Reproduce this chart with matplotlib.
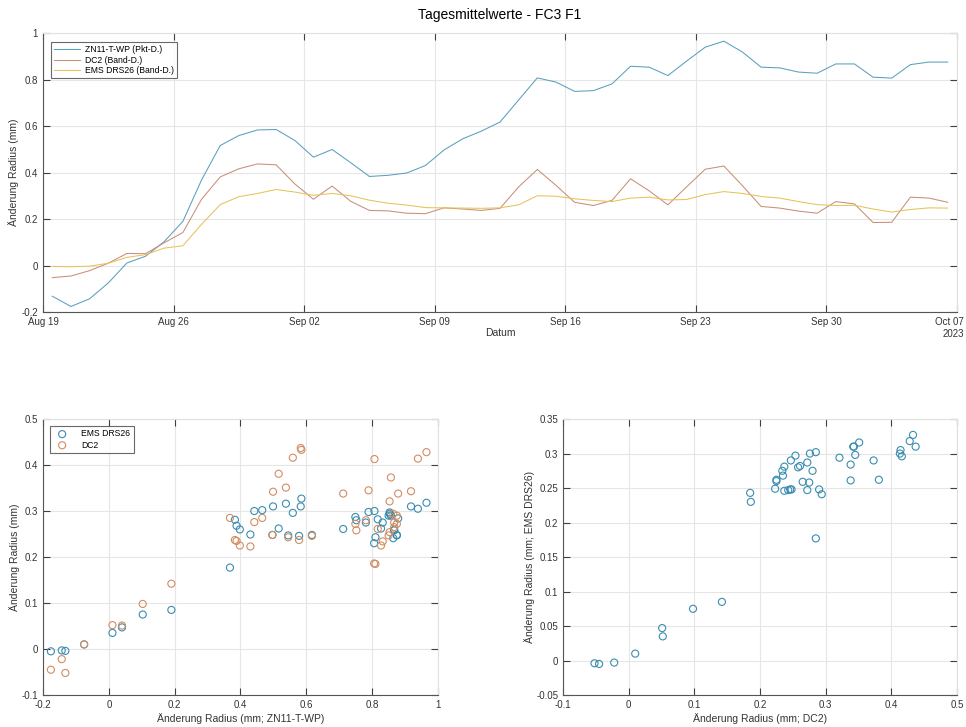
import numpy as np
import pandas as pd
import matplotlib
matplotlib.use("Agg")
import matplotlib.pyplot as plt
import matplotlib.dates as mdates
from matplotlib.ticker import FuncFormatter, MultipleLocator
from matplotlib.transforms import ScaledTranslation

plt.rcParams['font.family'] = ['Liberation Sans', 'DejaVu Sans']

# Tagesmittelwerte ab 19.08.2023 (je Tag, Mittag)
dates = pd.date_range("2023-08-19 12:00", periods=49, freq="D")

zn11 = [-0.132, -0.176, -0.143, -0.075, 0.011, 0.040, 0.103, 0.190, 0.368, 0.516,
        0.559, 0.583, 0.585, 0.538, 0.466, 0.499, 0.442, 0.383, 0.388, 0.398,
        0.430, 0.497, 0.545, 0.578, 0.617, 0.712, 0.807, 0.789, 0.749, 0.752,
        0.781, 0.857, 0.853, 0.817, 0.879, 0.939, 0.965, 0.918, 0.853, 0.850,
        0.832, 0.827, 0.867, 0.867, 0.810, 0.806, 0.864, 0.875, 0.875]

dc2 = [-0.052, -0.045, -0.022, 0.010, 0.052, 0.051, 0.098, 0.142, 0.285, 0.381,
       0.416, 0.437, 0.433, 0.351, 0.285, 0.342, 0.276, 0.237, 0.235, 0.225,
       0.223, 0.248, 0.243, 0.237, 0.246, 0.338, 0.413, 0.345, 0.272, 0.258,
       0.280, 0.373, 0.321, 0.261, 0.338, 0.414, 0.428, 0.343, 0.254, 0.247,
       0.234, 0.225, 0.275, 0.265, 0.185, 0.186, 0.294, 0.290, 0.272]

ems = [-0.004, -0.005, -0.003, 0.010, 0.035, 0.047, 0.075, 0.085, 0.177, 0.262,
       0.296, 0.310, 0.327, 0.316, 0.302, 0.310, 0.300, 0.281, 0.268, 0.260,
       0.249, 0.248, 0.247, 0.246, 0.248, 0.261, 0.300, 0.298, 0.287, 0.280,
       0.275, 0.290, 0.294, 0.282, 0.284, 0.305, 0.318, 0.310, 0.297, 0.290,
       0.275, 0.262, 0.258, 0.259, 0.243, 0.230, 0.241, 0.248, 0.247]

c_blue = '#5a9fbf'
c_orange = '#c98f78'
c_yellow = '#e5c35a'
c_sc_blue = '#3a8db0'
c_sc_orange = '#d28d62'
grid_c = '#e6e6e6'
tick_c = '#404040'

fmt = FuncFormatter(lambda v, p: f"{v:g}")


def style(ax):
    ax.grid(True, color=grid_c, linewidth=0.8)
    ax.set_axisbelow(True)
    for s in ['left', 'bottom']:
        ax.spines[s].set_color('#555555')
        ax.spines[s].set_linewidth(0.8)
    for s in ['top', 'right']:
        ax.spines[s].set_color('#e0e0e0')
        ax.spines[s].set_linewidth(0.8)
    ax.tick_params(direction='in', length=5, width=0.8, color=tick_c,
                   labelsize=7, labelcolor='#333333', top=True, right=True)


fig = plt.figure(figsize=(9.66, 7.27), dpi=100)

# Zeitreihe
ax = fig.add_axes([0.0445, 0.5708, 0.9462, 0.3838])
ax.plot(dates, zn11, color=c_blue, lw=0.75, label='ZN11-T-WP (Pkt-D.)')
ax.plot(dates, dc2, color=c_orange, lw=0.75, label='DC2 (Band-D.)')
ax.plot(dates, ems, color=c_yellow, lw=0.75, label='EMS DRS26 (Band-D.)')
ax.set_xlim(pd.Timestamp("2023-08-19"), pd.Timestamp("2023-10-07"))
ax.set_ylim(-0.2, 1)
ax.set_xticks(pd.date_range("2023-08-19", "2023-10-07", freq="7D"))
ax.xaxis.set_major_formatter(mdates.DateFormatter('%b %d'))
ax.yaxis.set_major_locator(MultipleLocator(0.2))
ax.yaxis.set_major_formatter(fmt)
style(ax)
ax.set_xlabel('Datum', fontsize=7.5, color='#333333', labelpad=1)
ax.set_ylabel('Änderung Radius (mm)', fontsize=7.5, color='#333333', labelpad=2)
ax.set_title('Tagesmittelwerte - FC3 F1', fontsize=10, pad=10)

# letzte Datumsbeschriftung rechtsbündig an den Rand schieben
fig.canvas.draw()
last = ax.get_xticklabels()[-1]
last.set_horizontalalignment('right')
last.set_transform(last.get_transform() + ScaledTranslation(0.07, 0, fig.dpi_scale_trans))
fig.text(0.998, 0.548, '2023', ha='right', va='top', fontsize=7, color='#333333')

leg = ax.legend(loc='upper left', bbox_to_anchor=(0.0088, 0.968), fontsize=6.2,
                frameon=True, fancybox=False, edgecolor='#444444',
                handlelength=3.0, handletextpad=0.6, borderaxespad=0,
                borderpad=0.35, labelspacing=0.2)
leg.get_frame().set_linewidth(0.8)

# Streudiagramm links
ax2 = fig.add_axes([0.0445, 0.0440, 0.4089, 0.3796])
ax2.scatter(zn11, ems, s=26, facecolors='none', edgecolors=c_sc_blue,
            linewidths=0.8, label='EMS DRS26')
ax2.scatter(zn11, dc2, s=26, facecolors='none', edgecolors=c_sc_orange,
            linewidths=0.8, label='DC2')
ax2.set_xlim(-0.2, 1)
ax2.set_ylim(-0.1, 0.5)
ax2.xaxis.set_major_locator(MultipleLocator(0.2))
ax2.yaxis.set_major_locator(MultipleLocator(0.1))
ax2.xaxis.set_major_formatter(fmt)
ax2.yaxis.set_major_formatter(fmt)
style(ax2)
ax2.set_xlabel('Änderung Radius (mm; ZN11-T-WP)', fontsize=7.5, color='#333333', labelpad=2)
ax2.set_ylabel('Änderung Radius (mm)', fontsize=7.5, color='#333333', labelpad=1)
leg2 = ax2.legend(loc='upper left', bbox_to_anchor=(0.018, 0.975), fontsize=6.2,
                  frameon=True, fancybox=False, edgecolor='#444444',
                  borderaxespad=0, borderpad=0.4, labelspacing=0.25,
                  handletextpad=1.2)
leg2.get_frame().set_linewidth(0.8)

# Streudiagramm rechts
ax3 = fig.add_axes([0.5828, 0.0440, 0.4079, 0.3796])
ax3.scatter(dc2, ems, s=26, facecolors='none', edgecolors=c_sc_blue, linewidths=0.8)
ax3.set_xlim(-0.1, 0.5)
ax3.set_ylim(-0.05, 0.35)
ax3.xaxis.set_major_locator(MultipleLocator(0.1))
ax3.yaxis.set_major_locator(MultipleLocator(0.05))
ax3.xaxis.set_major_formatter(fmt)
ax3.yaxis.set_major_formatter(fmt)
style(ax3)
ax3.set_xlabel('Änderung Radius (mm; DC2)', fontsize=7.5, color='#333333', labelpad=2)
ax3.set_ylabel('Änderung Radius (mm; EMS DRS26)', fontsize=7.5, color='#333333', labelpad=1)

fig.savefig('out.png', dpi=100)
